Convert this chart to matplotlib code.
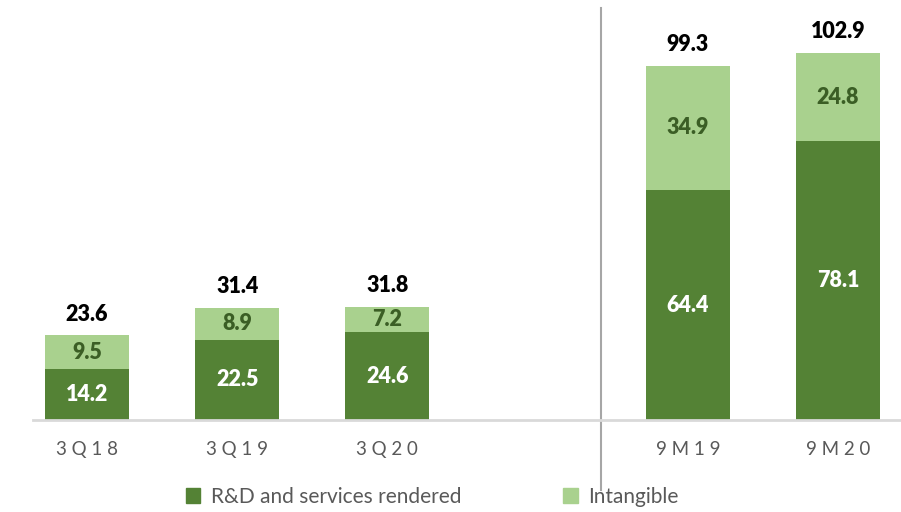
import matplotlib.pyplot as plt
from matplotlib.patches import Patch

# revenue split, EUR m
periods = ["3 Q 1 8", "3 Q 1 9", "3 Q 2 0", "9 M 1 9", "9 M 2 0"]
positions = [0, 1, 2, 4, 5]
rd_services = [14.2, 22.5, 24.6, 64.4, 78.1]
intangible = [9.5, 8.9, 7.2, 34.9, 24.8]
totals = [23.6, 31.4, 31.8, 99.3, 102.9]

DARK = "#548235"
LIGHT = "#A9D18E"
LABEL_DARK = "#3B5E25"
GREY = "#595959"

plt.rcParams["font.family"] = ["Lato", "DejaVu Sans"]

fig = plt.figure(figsize=(9.01, 5.12), dpi=100)
ax = fig.add_axes([33 / 901, 92 / 512, 868 / 901, 420 / 512])

width = 0.56
ax.bar(positions, rd_services, width, color=DARK)
ax.bar(positions, intangible, width, bottom=rd_services, color=LIGHT)

lbl = dict(ha="center", fontsize=15.5, fontweight="heavy")
for x, rd, it, tot in zip(positions, rd_services, intangible, totals):
    ax.text(x, rd / 2, f"{rd:.1f}", va="center", color="white", **lbl)
    ax.text(x, rd + it / 2, f"{it:.1f}", va="center", color=LABEL_DARK, **lbl)
    ax.text(x, tot + 3.0, f"{tot:.1f}", va="bottom", color="black", **lbl)

ax.set_xlim(-0.36, 5.42)
ax.set_ylim(0, 117.7)
ax.set_xticks(positions)
ax.set_xticklabels(periods, color=GREY, fontsize=13.5)
ax.tick_params(axis="x", length=0, pad=15)
ax.set_yticks([])
for side in ["top", "right", "left"]:
    ax.spines[side].set_visible(False)
ax.spines["bottom"].set_color("#D9D9D9")
ax.spines["bottom"].set_linewidth(2)

# divider between quarterly and nine-month figures
ax.plot([3.42, 3.42], [-19.6, 115.5], color="#A6A6A6", lw=1.5,
        clip_on=False)

handles = [Patch(color=DARK, label="R&D and services rendered"),
           Patch(color=LIGHT, label="Intangible")]
fig.legend(handles=handles, loc="center", bbox_to_anchor=(432 / 901, 15 / 512),
           ncol=2, frameon=False, fontsize=15, handlelength=0.7,
           handleheight=0.7, handletextpad=0.5, columnspacing=4.9,
           labelcolor=GREY)

fig.savefig("out.png", dpi=100)
